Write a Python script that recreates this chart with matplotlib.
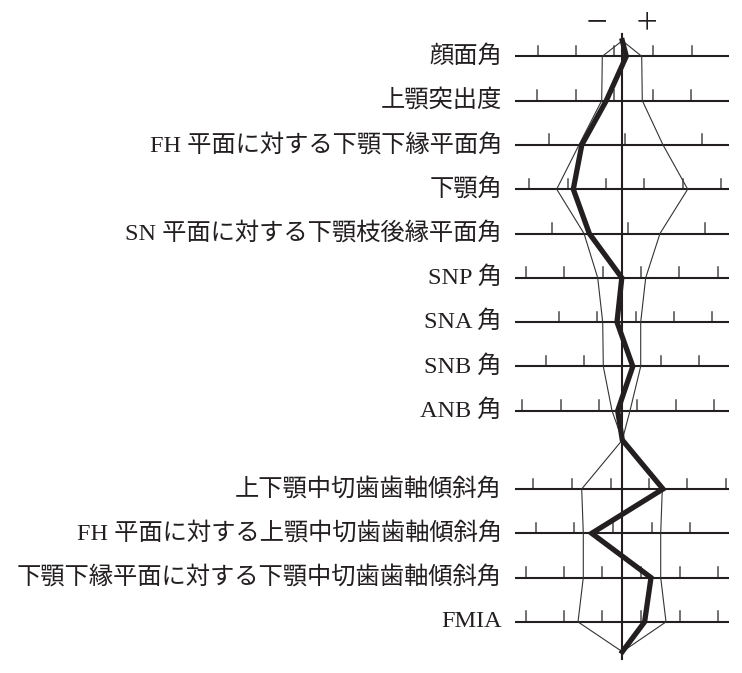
import numpy as np
import matplotlib
matplotlib.use("Agg")
import matplotlib.pyplot as plt

plt.rcParams['font.family'] = ['Liberation Serif', 'Noto Sans CJK JP', 'DejaVu Sans']

# measurement names, top to bottom (skeletal group, then dental group)
labels_skeletal = ['顔面角', '上顎突出度', 'FH 平面に対する下顎下縁平面角', '下顎角',
                   'SN 平面に対する下顎枝後縁平面角', 'SNP 角', 'SNA 角', 'SNB 角', 'ANB 角']
labels_dental = ['上下顎中切歯歯軸傾斜角', 'FH 平面に対する上顎中切歯歯軸傾斜角',
                 '下顎下縁平面に対する下顎中切歯歯軸傾斜角', 'FMIA']

# patient values, as offset from the mean axis (chart units)
patient_skeletal = [4, -16, -40.5, -49, -33, -0.5, -5.3, 10.5, -4.6]
patient_dental = [40.7, -30.6, 28.7, 22.3]

# -1SD / +1SD of the norm
sd_low_skeletal = [-20, -20.6, -43.3, -65.6, -38.3, -24.6, -19.6, -19, -10.3]
sd_high_skeletal = [19.4, 20, 40.7, 65.4, 37.7, 23.4, 18.4, 18.4, 7.7]
sd_low_dental = [-40.6, -39, -39, -44.3]
sd_high_dental = [40, 38.4, 38.4, 43.7]

# scale ticks on every row
ticks_skeletal = [
    [-84.6, -46, -8, 30.4, 69.2],
    [-85, -46.3, -8, 30.4, 68.4],
    [-73.3, 2.7, 79.4],
    [-93, -54.6, -16.3, 22, 60.4, 98.7],
    [-70.6, 6, 82.7],
    [-96.3, -58, -19.6, 18.7, 57, 95.4],
    [-63.3, -25, 13.4, 51.7, 90],
    [-76.6, -38.3, 0, 38.4, 76.7],
    [-100, -61.6, -23.3, 15, 53.4, 91.7],
]
ticks_dental = [
    [-89, -50, -11.6, 26.7, 65, 103.7],
    [-86.3, -48, -9, 29.4, 67.7],
    [-96.6, -58.3, -20, 18.4, 57.4, 95.7],
    [-96.6, -58.3, -20, 18.4, 57.4, 95.7],
]

# layout (pixels)
W, H = 742, 673
CENTER = 622.3
ROW_TOP = 56.3
ROW_STEP = 44.3
GROUP_GAP = 78.3
LINE_L, LINE_R = -107.3, 106.7
TICK_H = 10.5

fig = plt.figure(figsize=(W / 100, H / 100), dpi=100)
ax = fig.add_axes([0, 0, 1, 1])
ax.set_xlim(-CENTER, W - CENTER)
ax.set_ylim(H, 0)
ax.axis('off')

y_sk = ROW_TOP + ROW_STEP * np.arange(len(labels_skeletal))
y_de = y_sk[-1] + GROUP_GAP + ROW_STEP * np.arange(len(labels_dental))
top_v = ROW_TOP - 15.6
mid_v = 440
bot_v = y_de[-1] + 29.8

labels = labels_skeletal + labels_dental
ticks = ticks_skeletal + ticks_dental
ys = np.concatenate([y_sk, y_de])

for lab, y, tk in zip(labels, ys, ticks):
    ax.plot([LINE_L, LINE_R], [y, y], color='#231f20', lw=1.5, zorder=2,
            solid_capstyle='butt')
    for t in tk:
        ax.plot([t, t], [y, y - TICK_H], color='#4a4a4a', lw=1.1, zorder=1)
    ax.text(LINE_L - 13, y, lab, ha='right', va='center', fontsize=17.5,
            color='#231f20')


def profile(v1, v2):
    xs = [0] + list(v1) + [0] + list(v2) + [0]
    yy = [top_v] + list(y_sk) + [mid_v] + list(y_de) + [bot_v]
    return xs, yy


for lo, hi in [(sd_low_skeletal, sd_low_dental), (sd_high_skeletal, sd_high_dental)]:
    xs, yy = profile(lo, hi)
    ax.plot(xs, yy, color='#333333', lw=0.8, zorder=3)

ax.plot([0, 0], [top_v - 7, bot_v + 7], color='#231f20', lw=1.5, zorder=4)

xs, yy = profile(patient_skeletal, patient_dental)
ax.plot(xs, yy, color='#231f20', lw=3.8, zorder=5, solid_joinstyle='miter')

ax.text(597 - CENTER, 22, '－', ha='center', va='center', fontsize=17.5,
        family='Noto Sans CJK JP', color='#231f20')
ax.text(646.5 - CENTER, 22, '＋', ha='center', va='center', fontsize=17.5,
        family='Noto Sans CJK JP', color='#231f20')

fig.savefig('out.png', dpi=100)
